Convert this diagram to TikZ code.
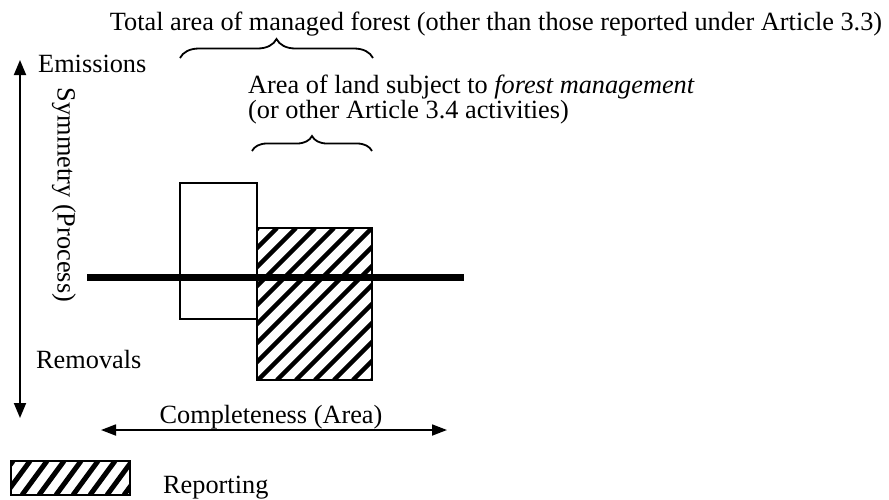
\documentclass[tikz,border=0pt]{standalone}
\usepackage{fontspec}
\setmainfont{Liberation Serif}
\usetikzlibrary{arrows.meta,decorations.pathreplacing}
\tikzset{
  lbl/.style={inner sep=0pt, font=\fontsize{26.3}{25}\selectfont},
  axis/.style={line width=1.8pt},
  tip/.style={-{Triangle[length=15pt,width=12pt]}},
  bothtip/.style={{Triangle[length=15pt,width=11pt]}-{Triangle[length=15pt,width=11pt]}},
  bracestyle/.style={decorate, line width=1.8pt},
  boxline/.style={draw, line width=1.8pt},
  hatchline/.style={line width=4.5pt},
}
\begin{document}
\begin{tikzpicture}[x=1pt,y=-1pt]
\useasboundingbox (0,0) rectangle (889,499);
% texts
\node[lbl, anchor=base] (total) at (496,30) {Total area of managed forest (other than those reported under Article 3.3)};
\node[lbl, anchor=base west] (emis) at (38,72) {Emissions};
\node[lbl, anchor=base west, align=left] (area) at (248,118) {Area of land subject to \textit{forest management}\\(or other Article 3.4 activities)};
\node[lbl, rotate=-90] (sym) at (64,195) {Symmetry (Process)};
\node[lbl, anchor=base west] (rem) at (36,368) {Removals};
\node[lbl, anchor=base] (comp) at (271,423) {Completeness (Area)};
\node[lbl, anchor=base west] (rep) at (163,493) {Reporting};
% braces
\coordinate (b1l) at (180,58); \coordinate (b1r) at (373,58);
\draw[bracestyle, decoration={brace, amplitude=19pt}] (b1l) -- (b1r);
\coordinate (b2l) at (252,151); \coordinate (b2r) at (372,151);
\draw[bracestyle, decoration={brace, amplitude=15pt}] (b2l) -- (b2r);
% vertical axis
\coordinate (vtop) at (20,60); \coordinate (vmid) at (20,240); \coordinate (vbot) at (20,418);
\draw[axis, tip] (vmid) -- (vtop);
\draw[axis, tip] (vmid) -- (vbot);
% horizontal double arrow
\coordinate (hl) at (101,430); \coordinate (hr) at (447,430);
\draw[axis, bothtip] (hl) -- (hr);
% white box
\draw[boxline] (180,183) rectangle (257,319);
% hatched box
\begin{scope}
\clip (257,228) rectangle (372,380);
\foreach \k in {-170,-151,...,130} {
  \draw[hatchline] (257+\k,380) -- (257+\k+152,228);
}
\end{scope}
\draw[boxline] (257,228) rectangle (372,380);
% thick line
\coordinate (tl) at (87,277); \coordinate (tr) at (464,277);
\draw[line width=7pt] (tl) -- (tr);
% legend
\begin{scope}
\clip (11,461) rectangle (130,495);
\foreach \k in {-40,-23,...,140} {
  \draw[line width=5pt] (11+\k,495) -- (11+\k+25,461);
}
\end{scope}
\draw[boxline] (11,461) rectangle (130,495);
\end{tikzpicture}
\end{document}
